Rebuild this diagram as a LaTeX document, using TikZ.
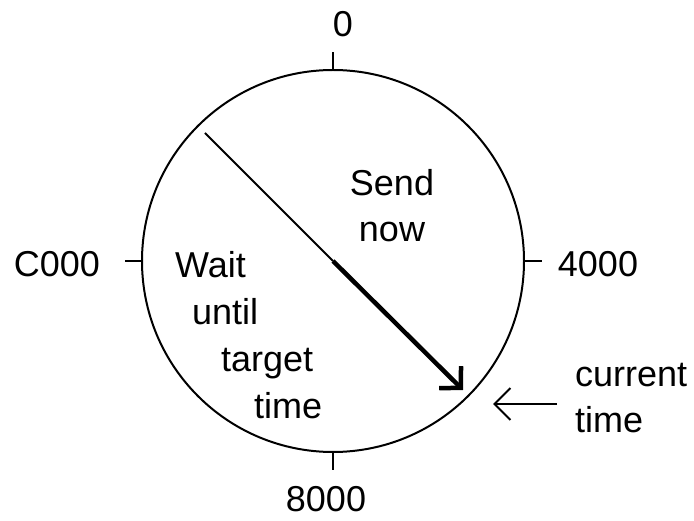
\documentclass[tikz,border=0pt]{standalone}
\usepackage{fontspec}
\setmainfont{Liberation Sans}
\usetikzlibrary{arrows.meta}
\begin{document}
\begin{tikzpicture}[x=1pt,y=-1pt,
  lbl/.style={font=\fontsize{36}{43}\selectfont, inner sep=0pt, anchor=base},
  lblw/.style={lbl, anchor=base west},
  tickline/.style={line width=2pt},
  thinline/.style={line width=2pt},
  handline/.style={line width=4.5pt, -{Straight Barb[length=15pt,width=31pt]}},
  pointer/.style={line width=2pt, -{Straight Barb[length=16pt,width=32pt]}}]
\useasboundingbox (0,0) rectangle (694,521);
\node[draw, circle, line width=2pt, minimum size=382pt, inner sep=0pt] (clock) at (333,261) {};
% ticks
\coordinate (tn) at (333,52);
\coordinate (tw) at (125,261);
\coordinate (te) at (542,261);
\coordinate (ts) at (333,470);
\draw[tickline] (clock.north) -- (tn);
\draw[tickline] (clock.west) -- (tw);
\draw[tickline] (clock.east) -- (te);
\draw[tickline] (clock.south) -- (ts);
% labels
\node[lbl] (l0) at (343,37) {0};
\node[lbl] (lc) at (57,277) {C000};
\node[lbl] (l4) at (598,277) {4000};
\node[lbl] (l8) at (326,511) {8000};
% hand
\coordinate (handstart) at (205,133);
\coordinate (handtip) at (463,390);
\draw[thinline] (handstart) -- (clock.center);
\draw[handline] (clock.center) -- (handtip);
% regions
\node[lbl] (send) at (392,196) {Send};
\node[lbl] (now) at (392,242) {now};
\node[lblw] (wait) at (175,278) {Wait};
\node[lblw] (until) at (192,325) {until};
\node[lblw] (target) at (221,372) {target};
\node[lblw] (ttime) at (254,419) {time};
% current time
\node[lblw] (cur) at (575,387) {current};
\node[lblw] (ctime) at (575,433) {time};
\coordinate (pstart) at (557,404);
\coordinate (pend) at (493,404);
\draw[pointer] (pstart) -- (pend);
\end{tikzpicture}
\end{document}
